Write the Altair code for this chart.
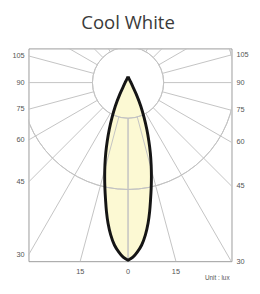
import altair as alt
import pandas as pd

# ---- data -----------------------------------------------------------------
# polar grid: radial lines every 15 deg (0 = straight down), intensity rings
GRID_ANGLES = [0, 15, 30, 45, 60, 75, 90, 105, 120, 135, 150, 165, 180]
RING_LEVELS = [36.5, 73, 109.5, 146, 182.5]

# light distribution curve (angle from nadir in deg, intensity in ring units)
LOBE_ANGLES = [0, 1.6, 3.1, 4.8, 6.5, 8.1, 9.5, 10.9, 12.4, 14, 15.7, 17.6,
               19.6, 21.9, 24.6, 28.4, 35.3, 60, 90, 135, 180]
LOBE_INTENSITY = [182, 179, 174, 167, 157, 145.5, 134, 122, 110.5, 99, 87.5,
                  75.5, 63.5, 51.5, 39.5, 27.5, 14.5, 4.7, 3, 2.8, 6]

SIDE_LABELS = [105, 90, 75, 60, 45, 30]
BOTTOM_LABELS = [-15, 0, 15]
TITLE = "Cool White"
UNIT = "Unit : lux"

# ---- frame (scale domain in intensity units) --------------------------------
XMIN, XMAX = -102, 106
YMIN, YMAX = -35, 183
W, H = XMAX - XMIN, YMAX - YMIN

xs = alt.Scale(domain=[XMIN, XMAX], nice=False, zero=False)
ys = alt.Scale(domain=[YMIN, YMAX], reverse=True, nice=False, zero=False)

GRID = "#c2c2c2"
LABEL = "#555555"

# ---- tables -----------------------------------------------------------------
lobe_half = pd.DataFrame({"angle": LOBE_ANGLES, "r": LOBE_INTENSITY})
lobe_full = pd.concat([lobe_half.assign(side=-1), lobe_half.assign(side=1)],
                      ignore_index=True)
radials = pd.concat([pd.DataFrame({"angle": GRID_ANGLES, "side": s}) for s in (-1, 1)],
                    ignore_index=True)
rings = pd.DataFrame({"r": RING_LEVELS})
sides = pd.concat([pd.DataFrame({"angle": SIDE_LABELS, "side": s}) for s in (-1, 1)],
                  ignore_index=True)
bottom = pd.DataFrame({"angle": BOTTOM_LABELS})

# ---- layers -----------------------------------------------------------------
fill = alt.Chart(lobe_half).transform_calculate(
    th="datum.angle*PI/180",
    y="datum.r*cos(datum.th)",
    xl="-datum.r*sin(datum.th)",
    xr="datum.r*sin(datum.th)",
).mark_area(orient="horizontal", color="#fcf9d3", interpolate="catmull-rom").encode(
    y=alt.Y("y:Q", scale=ys, axis=None),
    x=alt.X("xl:Q", scale=xs, axis=None),
    x2="xr:Q",
)

radial = alt.Chart(radials).transform_calculate(
    th="datum.angle*PI/180",
    x0=f"datum.side*{RING_LEVELS[0]}*sin(datum.th)",
    y0=f"{RING_LEVELS[0]}*cos(datum.th)",
    x1="datum.side*400*sin(datum.th)",
    y1="400*cos(datum.th)",
).mark_rule(color=GRID, strokeWidth=1, clip=True).encode(
    x=alt.X("x0:Q", scale=xs, axis=None),
    y=alt.Y("y0:Q", scale=ys, axis=None),
    x2="x1:Q",
    y2="y1:Q",
)

ring = alt.Chart(rings).mark_arc(
    filled=False, stroke=GRID, strokeWidth=1, theta=0, theta2=6.2832, clip=True
).encode(
    x=alt.X(datum=0, type="quantitative", scale=xs, axis=None),
    y=alt.Y(datum=0, type="quantitative", scale=ys, axis=None),
    radius=alt.Radius("r:Q", scale=None),
)

outline = alt.Chart(lobe_full).transform_calculate(
    th="datum.angle*PI/180",
    x="datum.side*datum.r*sin(datum.th)",
    y="datum.r*cos(datum.th)",
    k="datum.side*datum.angle",
).mark_line(color="#151515", strokeWidth=3, interpolate="catmull-rom",
            strokeJoin="miter").encode(
    x=alt.X("x:Q", scale=xs, axis=None),
    y=alt.Y("y:Q", scale=ys, axis=None),
    order="k:Q",
)

left_lab = alt.Chart(sides).transform_filter("datum.side < 0").transform_calculate(
    th="datum.angle*PI/180",
    x=f"{XMIN} - 4",
    y=f"{-XMIN}*cos(datum.th)/sin(datum.th)",
    t="datum.angle + ''",
).mark_text(align="right", baseline="middle", fontSize=7.5, color=LABEL,
            font="Liberation Sans").encode(
    x=alt.X("x:Q", scale=xs, axis=None),
    y=alt.Y("y:Q", scale=ys, axis=None),
    text="t:N",
)

right_lab = alt.Chart(sides).transform_filter("datum.side > 0").transform_calculate(
    th="datum.angle*PI/180",
    x=f"{XMAX} + 5",
    y=f"{XMAX}*cos(datum.th)/sin(datum.th)",
    t="datum.angle + ''",
).mark_text(align="left", baseline="middle", fontSize=7.5, color=LABEL,
            font="Liberation Sans").encode(
    x=alt.X("x:Q", scale=xs, axis=None),
    y=alt.Y("y:Q", scale=ys, axis=None),
    text="t:N",
)

bottom_lab = alt.Chart(bottom).transform_calculate(
    th="datum.angle*PI/180",
    x=f"{YMAX}*tan(datum.th)",
    y=f"{YMAX} + 11",
    t="abs(datum.angle) + ''",
).mark_text(align="center", baseline="middle", fontSize=7.5, color=LABEL,
            font="Liberation Sans").encode(
    x=alt.X("x:Q", scale=xs, axis=None),
    y=alt.Y("y:Q", scale=ys, axis=None),
    text="t:N",
)

title = alt.Chart(pd.DataFrame({"t": [TITLE]})).mark_text(
    align="center", baseline="alphabetic", fontSize=19, color="#3a3a3a", font="Open Sans"
).encode(x=alt.value(-XMIN), y=alt.value(-20), text="t:N")

unit = alt.Chart(pd.DataFrame({"t": [UNIT]})).mark_text(
    align="right", baseline="middle", fontSize=6.5, color=LABEL, font="Liberation Sans"
).encode(x=alt.value(W - 2), y=alt.value(H + 17), text="t:N")

chart = alt.layer(
    fill, radial, ring, outline, left_lab, right_lab, bottom_lab, title, unit
).properties(
    width=W, height=H,
    autosize=alt.AutoSizeParams(type="none"),
    padding={"left": 21, "top": 38, "right": 21, "bottom": 22},
).configure_view(stroke="#9a9a9a", strokeWidth=1)

chart.save("out.html", embed_options={"renderer": "svg", "actions": False})
